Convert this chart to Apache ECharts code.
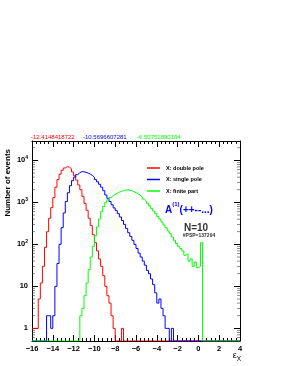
<!DOCTYPE html>
<html>
<head>
<meta charset="utf-8">
<script src="https://cdn.jsdelivr.net/npm/echarts@6/dist/echarts.min.js"></script>
<style>html,body{margin:0;padding:0;background:#fff;}#c{width:283px;height:366px;}</style>
</head>
<body>
<div id="c"></div>
<script>
// ---- data ----
const X_MIN = -16, X_MAX = 4, BIN_WIDTH = 0.2;
const Y_MIN = 0.5, Y_MAX = 29000;
const xTickLabels = [-16, -14, -12, -10, -8, -6, -4, -2, 0, 2, 4];
const yTickLabels = [1, 10, 100, 1000, 10000];
const minorMultipliers = [2, 3, 4, 5, 6, 7, 8, 9];
const seriesNames = ['X: double pole', 'X: single pole', 'X: finite part'];
const seriesColors = ['#ff0000', '#0000ff', '#00ff00'];
const topValues = ['-12.4148418722', '-10.5696607281', '-6.50751890104'];

const redStart = -16.0;
const redCounts = [1,1,1,5,12,30,85,200,420,750,
  1300,2300,3500,4700,5800,6600,7100,6900,6300,5300,
  4300,3400,2600,2000,1400,950,650,420,280,170,
  110,70,45,30,18,10,6,4,2,1,
  0,0,0,1];
const blueStart = -14.6;
const blueCounts = [2,2,1,2,10,35,100,250,560,1050,
  1700,2500,3300,4000,4600,5100,5400,5350,5200,5000,
  4750,4400,4000,3500,3100,2700,2300,1900,1500,1250,
  1050,880,740,640,540,450,370,300,240,190,
  155,125,100,80,62,50,40,32,24,20,
  15,11,7,4,5,3,2,1,1,0,
  1];
const greenStart = -11.4;
const greenCounts = [2,3,6,12,25,50,90,160,260,400,
  600,800,1000,1150,1300,1450,1550,1650,1750,1850,
  1900,1950,2000,1950,1900,1800,1700,1600,1480,1350,
  1200,1080,950,830,720,620,540,460,400,340,
  290,250,210,180,150,125,105,90,80,70,
  55,60,40,45,30,38,28,30,110];

// ---- build step-histogram polylines ----
function histPoints(start, counts) {
  const nb = Math.round((X_MAX - X_MIN) / BIN_WIDTH);
  const off = Math.round((start - X_MIN) / BIN_WIDTH);
  const pts = [];
  for (let i = 0; i < nb; i++) {
    const j = i - off;
    const c = (j >= 0 && j < counts.length) ? counts[j] : 0;
    const v = c > 0 ? c : Y_MIN;
    const lo = +(X_MIN + i * BIN_WIDTH).toFixed(3);
    const hi = +(X_MIN + (i + 1) * BIN_WIDTH).toFixed(3);
    pts.push([lo, v], [hi, v]);
  }
  return pts;
}
const hists = [[redStart, redCounts], [blueStart, blueCounts], [greenStart, greenCounts]];

const minorVals = [];
for (let d = -1; d <= 4; d++) {
  minorMultipliers.forEach(m => {
    const v = m * Math.pow(10, d);
    if (v > Y_MIN && v < Y_MAX) minorVals.push(v);
  });
}

const FONT = 'Liberation Sans, Arial, Helvetica, sans-serif';
function yLabel(v) {
  const e = Math.round(Math.log10(v));
  if (Math.abs(Math.log10(v) - e) > 1e-6 || yTickLabels.indexOf(Math.pow(10, e)) < 0) return '';
  if (e === 0) return '{b|1}';
  if (e === 1) return '{b|10}';
  return '{b|10}{s|' + e + '}';
}

const chart = echarts.init(document.getElementById('c'), null, {renderer: 'canvas'});
const axisLine = {show: true, onZero: false, lineStyle: {color: '#000', width: 1}};
const option = {
  animation: false,
  backgroundColor: '#fff',
  grid: {left: 32, right: 43, top: 141, bottom: 25, containLabel: false},
  legend: {
    orient: 'vertical', left: 142, top: 160,
    itemWidth: 13, itemHeight: 1.5, itemGap: 5.5,
    icon: 'rect',
    data: seriesNames,
    textStyle: {fontSize: 5.5, fontFamily: FONT, color: '#000', fontWeight: 'bold', lineHeight: 6, padding: [0,0,0,1]}
  },
  xAxis: [
    {
      type: 'value', min: X_MIN, max: X_MAX, interval: 2, position: 'bottom',
      axisLine: axisLine, splitLine: {show: false},
      axisTick: {show: true, inside: true, length: 6, lineStyle: {color: '#000'}},
      minorTick: {show: true, splitNumber: 5, length: 3, lineStyle: {color: '#000'}},
      axisLabel: {fontSize: 7.5, fontWeight: 'bold', fontFamily: FONT, color: '#000', margin: 4,
        formatter: v => xTickLabels.indexOf(v) < 0 ? '' : (v < 0 ? '\u2212' + (-v) : String(v))}
    },
    {
      type: 'value', min: X_MIN, max: X_MAX, interval: 2, position: 'top',
      axisLine: axisLine, splitLine: {show: false},
      axisTick: {show: true, inside: true, length: 6, lineStyle: {color: '#000'}},
      minorTick: {show: true, splitNumber: 5, length: 3, lineStyle: {color: '#000'}},
      axisLabel: {show: false}
    }
  ],
  yAxis: [
    {
      type: 'log', logBase: 10, min: Y_MIN, max: Y_MAX, position: 'left',
      axisLine: axisLine, splitLine: {show: false},
      axisTick: {show: true, inside: true, length: 6, lineStyle: {color: '#000'}},
      axisLabel: {showMinLabel: false, showMaxLabel: false, margin: 4, fontFamily: FONT, color: '#000',
        formatter: yLabel,
        rich: {b: {fontSize: 7.5, fontWeight: 'bold', fontFamily: FONT, color: '#000', lineHeight: 10},
               s: {fontSize: 5, fontWeight: 'bold', fontFamily: FONT, color: '#000', lineHeight: 10, verticalAlign: 'top'}}}
    },
    {
      type: 'log', logBase: 10, min: Y_MIN, max: Y_MAX, position: 'right',
      axisLine: axisLine, splitLine: {show: false},
      axisTick: {show: true, inside: true, length: 6, lineStyle: {color: '#000'}},
      axisLabel: {show: false}
    }
  ],
  series: hists.map((h, k) => ({
    name: seriesNames[k], type: 'line', data: histPoints(h[0], h[1]),
    symbol: 'none', lineStyle: {width: 1, color: seriesColors[k]},
    itemStyle: {color: seriesColors[k]}, clip: true, silent: true
  })).concat([
    {type: 'scatter', silent: true, clip: false, symbol: 'rect', symbolSize: [3, 0.7], symbolOffset: [1.5, 0],
     itemStyle: {color: '#333'}, data: minorVals.map(v => [X_MIN, v])},
    {type: 'scatter', silent: true, clip: false, symbol: 'rect', symbolSize: [3, 0.7], symbolOffset: [-1.5, 0],
     itemStyle: {color: '#333'}, data: minorVals.map(v => [X_MAX, v])}
  ]),
  graphic: [
    {type: 'text', x: 31, y: 137, style: {text: topValues[0], fill: seriesColors[0], font: '6px ' + FONT, textVerticalAlign: 'middle'}},
    {type: 'text', x: 83, y: 137, style: {text: topValues[1], fill: seriesColors[1], font: '6px ' + FONT, textVerticalAlign: 'middle'}},
    {type: 'text', x: 137, y: 137, style: {text: topValues[2], fill: seriesColors[2], font: '6px ' + FONT, textVerticalAlign: 'middle'}},
    {type: 'text', x: 8, y: 149, rotation: Math.PI / 2,
     style: {text: 'Number of events', fill: '#000', font: 'bold 8px ' + FONT, textAlign: 'right', textVerticalAlign: 'middle'}},
    {type: 'text', x: 241, y: 357,
     style: {text: '{e|\u03b5}{x|X}', textAlign: 'right', textVerticalAlign: 'middle',
       rich: {e: {fontSize: 9, fontFamily: FONT, fill: '#000', lineHeight: 12, verticalAlign: 'top'},
              x: {fontSize: 6.5, fontFamily: FONT, fill: '#000', lineHeight: 12, verticalAlign: 'bottom'}}}},
    {type: 'text', x: 165, y: 208,
     style: {text: '{a|A}{s|(1)}{a|(++--...)}', textVerticalAlign: 'middle',
       rich: {a: {fontSize: 10, fontWeight: 'bold', fontFamily: FONT, fill: '#0000ff', lineHeight: 14, verticalAlign: 'bottom'},
              s: {fontSize: 6, fontWeight: 'bold', fontFamily: FONT, fill: '#0000ff', lineHeight: 14, verticalAlign: 'top'}}}},
    {type: 'text', x: 196, y: 228,
     style: {text: 'N=10', fill: '#333', font: 'bold 10px ' + FONT, textAlign: 'center', textVerticalAlign: 'middle'}},
    {type: 'text', x: 199, y: 236,
     style: {text: '#PSP=137294', fill: '#333', font: 'bold 5px ' + FONT, textAlign: 'center', textVerticalAlign: 'middle'}}
  ]
};
chart.setOption(option);
</script>
</body>
</html>
